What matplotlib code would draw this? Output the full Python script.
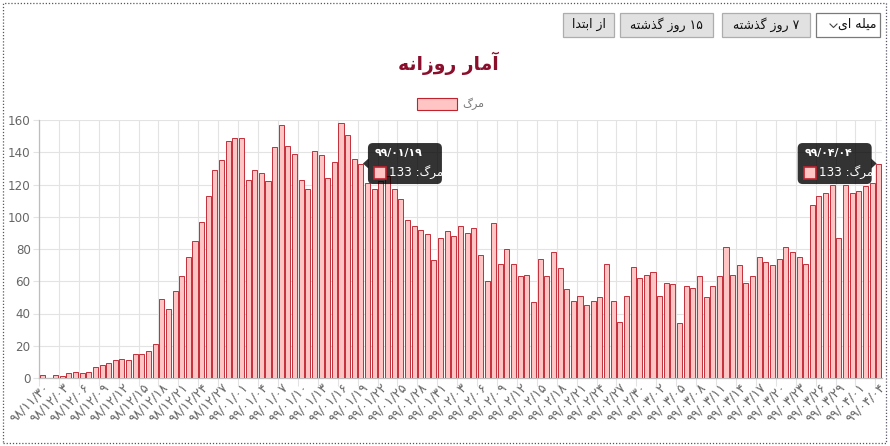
import re
import numpy as np
import matplotlib
matplotlib.use("Agg")
import matplotlib.pyplot as plt
from matplotlib.patches import Rectangle, FancyBboxPatch, Polygon
from matplotlib.lines import Line2D

plt.rcParams['font.family'] = ['DejaVu Sans']

# ---------------- data ----------------
deaths = [2, 0, 2, 1, 3, 4, 3, 4, 7, 8, 9, 11, 12, 11, 15, 15, 17, 21, 49, 43,
          54, 63, 75, 85, 97, 113, 129, 135, 147, 149, 149, 123, 129, 127, 122, 143, 157, 144, 139, 123,
          117, 141, 138, 124, 134, 158, 151, 136, 133, 121, 117, 122, 125, 117, 111, 98, 94, 92, 89, 73,
          87, 91, 88, 94, 90, 93, 76, 60, 96, 71, 80, 71, 63, 64, 47, 74, 63, 78, 68, 55,
          48, 51, 45, 48, 50, 71, 48, 35, 51, 69, 62, 64, 66, 51, 59, 58, 34, 57, 56, 63,
          50, 57, 63, 81, 64, 70, 59, 63, 75, 72, 70, 74, 81, 78, 75, 71, 107, 113, 115, 120,
          87, 120, 115, 116, 119, 121, 133]

tick_labels_ascii = ["98/11/30", "98/12/03", "98/12/06", "98/12/09", "98/12/12", "98/12/15",
                     "98/12/18", "98/12/21", "98/12/24", "98/12/27", "99/01/01", "99/01/04",
                     "99/01/07", "99/01/10", "99/01/13", "99/01/16", "99/01/19", "99/01/22",
                     "99/01/25", "99/01/28", "99/01/31", "99/02/03", "99/02/06", "99/02/09",
                     "99/02/12", "99/02/15", "99/02/18", "99/02/21", "99/02/24", "99/02/27",
                     "99/02/30", "99/03/02", "99/03/05", "99/03/08", "99/03/11", "99/03/14",
                     "99/03/17", "99/03/20", "99/03/23", "99/03/26", "99/03/29", "99/04/01",
                     "99/04/04"]
tick_step = 3
y_ticks = [0, 20, 40, 60, 80, 100, 120, 140, 160]
tooltip_idx = [48, 126]

title_text = "آمار روزانه"
series_name = "مرگ"
buttons = ["از ابتدا", "۱۵ روز گذشته", "۷ روز گذشته"]
dropdown_text = "میله ای"

# ---------------- Persian shaping helpers ----------------
FORMS = {
    '\u0622': ('\uFE81', '\uFE82', None, None),
    '\u0627': ('\uFE8D', '\uFE8E', None, None),
    '\u0628': ('\uFE8F', '\uFE90', '\uFE91', '\uFE92'),
    '\u062A': ('\uFE95', '\uFE96', '\uFE97', '\uFE98'),
    '\u062F': ('\uFEA9', '\uFEAA', None, None),
    '\u0630': ('\uFEAB', '\uFEAC', None, None),
    '\u0631': ('\uFEAD', '\uFEAE', None, None),
    '\u0632': ('\uFEAF', '\uFEB0', None, None),
    '\u0634': ('\uFEB5', '\uFEB6', '\uFEB7', '\uFEB8'),
    '\u0644': ('\uFEDD', '\uFEDE', '\uFEDF', '\uFEE0'),
    '\u0645': ('\uFEE1', '\uFEE2', '\uFEE3', '\uFEE4'),
    '\u0646': ('\uFEE5', '\uFEE6', '\uFEE7', '\uFEE8'),
    '\u0647': ('\uFEE9', '\uFEEA', '\uFEEB', '\uFEEC'),
    '\u0648': ('\uFEED', '\uFEEE', None, None),
    '\u06CC': ('\uFBFC', '\uFBFD', '\uFBFE', '\uFBFF'),
    '\u06AF': ('\uFB92', '\uFB93', '\uFB94', '\uFB95'),
}


def shape(s):
    out = []
    for i, c in enumerate(s):
        if c not in FORMS:
            out.append(c)
            continue
        prev = s[i - 1] if i > 0 else None
        nxt = s[i + 1] if i + 1 < len(s) else None
        jp = prev in FORMS and FORMS[prev][2] is not None
        jn = FORMS[c][2] is not None and nxt in FORMS
        f = FORMS[c]
        if jp and jn:
            out.append(f[3])
        elif jp:
            out.append(f[1])
        elif jn:
            out.append(f[2])
        else:
            out.append(f[0])
    return ''.join(out)


LTR = r'0-9A-Za-z\u06F0-\u06F9/.'


def rtl(s):
    sh = shape(s)
    runs = re.findall('[' + LTR + ']+|[^' + LTR + ']+', sh)
    out = []
    for r in reversed(runs):
        if re.match('[' + LTR + ']', r):
            out.append(r)
        else:
            out.append(r[::-1])
    return ''.join(out)


fa_digits = str.maketrans("0123456789", "۰۱۲۳۴۵۶۷۸۹")
tick_labels = [t.translate(fa_digits) for t in tick_labels_ascii]

# ---------------- figure ----------------
W, H = 890, 446
fig = plt.figure(figsize=(W / 100, H / 100), dpi=100)
fig.patch.set_facecolor('white')

L, R, T, B = 39, 882, 120, 378
ax = fig.add_axes([L / W, 1 - B / H, (R - L) / W, (B - T) / H])

bar_fill = '#ffc4c4'
bar_edge = '#c0222e'
x = np.arange(len(deaths))
ax.bar(x, deaths, width=0.76, color=bar_fill, edgecolor=bar_edge, linewidth=0.65, zorder=3)

ax.set_xlim(-0.5, len(deaths) - 0.5)
ax.set_ylim(y_ticks[0], y_ticks[-1])

grid_c = '#e3e3e3'
major_x = x[::tick_step]
ax.set_xticks(major_x)
ax.set_xticklabels(tick_labels, rotation=45, ha='right', va='top',
                   rotation_mode='anchor', fontsize=9.2, color='#666666')
ax.set_xticks(major_x - 0.5, minor=True)
ax.tick_params(axis='x', which='major', length=0, pad=2)
ax.tick_params(axis='x', which='minor', length=5.5, color=grid_c, width=0.8)
ax.grid(True, axis='x', which='minor', color=grid_c, linewidth=0.8, zorder=0)

ax.set_yticks(y_ticks)
ax.set_yticklabels([str(v) for v in y_ticks], fontsize=8.6, color='#666666')
ax.tick_params(axis='y', length=4, color=grid_c, width=0.8, pad=2)
ax.grid(True, axis='y', which='major', color=grid_c, linewidth=0.8, zorder=0)

for side in ['top', 'right']:
    ax.spines[side].set_visible(False)
for side in ['left', 'bottom']:
    ax.spines[side].set_color('#bdbdbd')
    ax.spines[side].set_linewidth(0.9)


def fx(px):
    return px / W


def fy(py):
    return 1 - py / H


# title
fig.text(fx(448), fy(63), rtl(title_text), ha='center', va='center',
         fontsize=13.5, fontweight='bold', color='#8a0f2c')

# legend
fig.patches.append(Rectangle((fx(417), fy(110)), fx(40), 12 / H, transform=fig.transFigure,
                             facecolor=bar_fill, edgecolor=bar_edge, linewidth=0.8))
fig.text(fx(462), fy(104), rtl(series_name), ha='left', va='center', fontsize=8,
         color='#777777')

# buttons
btn_boxes = [(563, 614), (620, 713), (722, 810)]
for (x0, x1), label in zip(btn_boxes, buttons):
    fig.patches.append(Rectangle((fx(x0), fy(37)), fx(x1 - x0), 24 / H,
                                 transform=fig.transFigure, facecolor='#e1e1e1',
                                 edgecolor='#adadad', linewidth=0.9))
    fig.text(fx((x0 + x1) / 2), fy(24.5), rtl(label), ha='center', va='center',
             fontsize=9, color='#111111')
# dropdown
fig.patches.append(Rectangle((fx(816), fy(37)), fx(64), 24 / H, transform=fig.transFigure,
                             facecolor='white', edgecolor='#7a7a7a', linewidth=0.9))
fig.text(fx(876), fy(24.5), rtl(dropdown_text), ha='right', va='center', fontsize=9,
         color='#111111')
fig.lines.append(Line2D([fx(830), fx(833.5), fx(837)], [fy(24), fy(27.5), fy(24)],
                        transform=fig.transFigure, color='#444444', linewidth=0.8))

# outer dotted border
fig.patches.append(Rectangle((fx(2.5), fy(442.5)), fx(883), 440 / H, transform=fig.transFigure,
                             facecolor='none', edgecolor='#555566', linewidth=0.9,
                             linestyle=(0, (1, 1.5))))

# tooltips
for k, idx in enumerate(tooltip_idx):
    px, py = ax.transData.transform((idx, deaths[idx]))
    bw, bh = 74, 41
    if k == 0:
        bx0 = px + 7
        tip = px + 2
        base = bx0 + 0.5
    else:
        bx0 = px - 7 - bw
        tip = px - 2
        base = bx0 + bw - 0.5
    by0 = py - bh / 2
    tb = FancyBboxPatch((bx0, by0), bw, bh, boxstyle='round,pad=0,rounding_size=5',
                        transform=None, facecolor=(0, 0, 0, 0.8), edgecolor='none', zorder=10)
    fig.patches.append(tb)
    fig.patches.append(Polygon([(tip, py), (base, py + 5), (base, py - 5)], closed=True,
                               transform=None, facecolor=(0, 0, 0, 0.8), edgecolor='none',
                               zorder=10))
    title = tick_labels[idx // tick_step]
    fig.text((bx0 + 7) / W, (by0 + bh - 10) / H, title, ha='left', va='center',
             fontsize=7.8, fontweight='bold', color='white', zorder=11)
    fig.patches.append(Rectangle(((bx0 + 6) / W, (by0 + 5) / H), 12 / W, 12 / H,
                                 transform=fig.transFigure, facecolor=bar_fill,
                                 edgecolor=bar_edge, linewidth=1.2, zorder=11))
    fig.text((bx0 + 21) / W, (by0 + 11) / H, rtl(series_name + ": " + str(deaths[idx])),
             ha='left', va='center', fontsize=8.6, color='white', zorder=11)

fig.savefig('out.png', dpi=100)
